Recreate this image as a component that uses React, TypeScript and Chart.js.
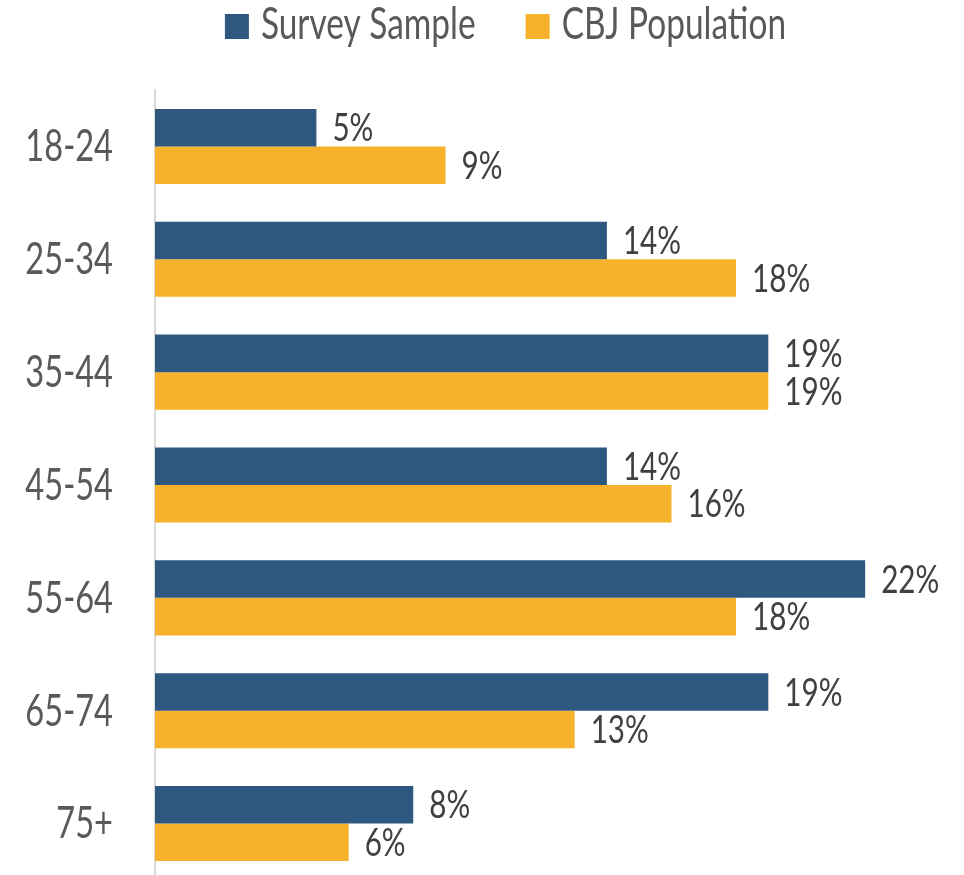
import React, { useEffect, useRef } from "react";
import { Chart, registerables } from "chart.js";

Chart.register(...registerables);

const categories = ["18-24", "25-34", "35-44", "45-54", "55-64", "65-74", "75+"];
const surveySample = [5, 14, 19, 14, 22, 19, 8];
const cbjPopulation = [9, 18, 19, 16, 18, 13, 6];
const seriesNames = ["Survey Sample", "CBJ Population"];
const seriesColors = ["#2E5880", "#F6B22A"];
const xMax = 25;

const FONT = 'Lato, "Open Sans", sans-serif';
const WEIGHT = "400";

function squeezedText(ctx: any, text: string, x: number, y: number, align: string, sq: number) {
  ctx.save();
  ctx.translate(x, y);
  ctx.scale(sq, 1);
  ctx.textAlign = align;
  ctx.textBaseline = "alphabetic";
  ctx.fillText(text, 0, 0);
  ctx.restore();
}

const dataLabelPlugin = {
  id: "dataLabels",
  afterDatasetsDraw(chart: any) {
    const ctx = chart.ctx;
    const size = 38;
    ctx.save();
    ctx.font = `${WEIGHT} ${size}px ${FONT}`;
    ctx.fillStyle = "#404040";
    chart.data.datasets.forEach((ds: any, i: number) => {
      const meta = chart.getDatasetMeta(i);
      meta.data.forEach((bar: any, j: number) => {
        const { x, y } = bar.getProps(["x", "y"], true);
        squeezedText(ctx, `${ds.data[j]}%`, x + 16, y + size * 0.36, "left", 0.78);
      });
    });
    ctx.restore();
  },
};

const categoryLabelPlugin = {
  id: "categoryLabels",
  afterDraw(chart: any) {
    const ctx = chart.ctx;
    const yScale = chart.scales.y;
    const size = 44;
    ctx.save();
    ctx.font = `${WEIGHT} ${size}px ${FONT}`;
    ctx.fillStyle = "#595959";
    chart.data.labels.forEach((lab: string, i: number) => {
      const y = yScale.getPixelForTick(i);
      squeezedText(ctx, lab, yScale.right - 42, y + size * 0.36 - 1, "right", 0.74);
    });
    ctx.restore();
  },
};

const legendPlugin = {
  id: "topLegend",
  afterDraw(chart: any) {
    const ctx = chart.ctx;
    const sq = 0.76;
    ctx.save();
    ctx.font = `${WEIGHT} 44px ${FONT}`;
    const box = 24;
    const boxH = 25;
    const gap = 12;
    const itemGap = 50;
    const items = chart.data.datasets.map((ds: any) => ({
      label: ds.label,
      color: ds.backgroundColor,
      w: ctx.measureText(ds.label).width * sq,
    }));
    const total =
      items.reduce((s: number, it: any) => s + box + gap + it.w, 0) + itemGap * (items.length - 1);
    let x = 505.5 - total / 2;
    items.forEach((it: any) => {
      ctx.fillStyle = it.color;
      ctx.fillRect(x, 14, box, boxH);
      x += box + gap;
      ctx.fillStyle = "#595959";
      squeezedText(ctx, it.label, x, 39, "left", sq);
      x += it.w + itemGap;
    });
    ctx.restore();
  },
};

export default function App() {
  const ref = useRef<HTMLCanvasElement | null>(null);

  useEffect(() => {
    if (!ref.current) return;
    const chart = new Chart(ref.current, {
      type: "bar",
      data: {
        labels: categories,
        datasets: [
          {
            label: seriesNames[0],
            data: surveySample,
            backgroundColor: seriesColors[0],
            categoryPercentage: 0.665,
            barPercentage: 1,
          },
          {
            label: seriesNames[1],
            data: cbjPopulation,
            backgroundColor: seriesColors[1],
            categoryPercentage: 0.665,
            barPercentage: 1,
          },
        ],
      },
      options: {
        indexAxis: "y",
        responsive: false,
        animation: false,
        devicePixelRatio: 1,
        layout: { padding: { top: 90, right: 2, left: 0, bottom: 0 } },
        plugins: {
          legend: { display: false },
          tooltip: { enabled: false },
        },
        scales: {
          x: { min: 0, max: xMax, display: false },
          y: {
            grid: { display: false, drawTicks: false },
            border: { display: true, color: "#D9D9D9", width: 2 },
            ticks: { display: false },
            afterFit(scale: any) {
              scale.width = 155;
              scale.paddingTop = 0;
              scale.paddingBottom = 0;
            },
          },
        },
      },
      plugins: [dataLabelPlugin, categoryLabelPlugin, legendPlugin],
    } as any);
    return () => chart.destroy();
  }, []);

  return (
    <div
      style={{
        position: "absolute",
        left: 0,
        top: 0,
        width: 964,
        height: 875,
        overflow: "hidden",
        background: "#fff",
      }}
    >
      <canvas ref={ref} width={964} height={880} style={{ display: "block" }} />
    </div>
  );
}
